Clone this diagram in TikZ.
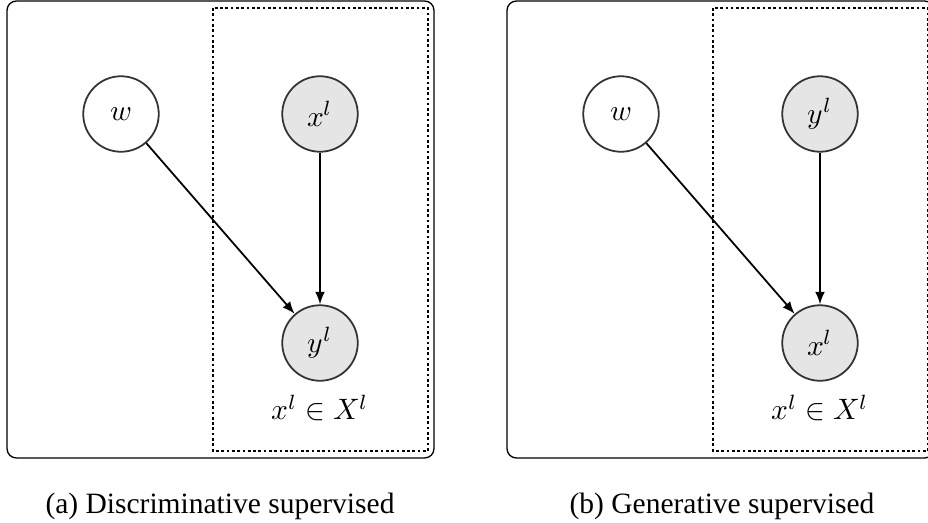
\documentclass[tikz,border=0pt]{standalone}
\usepackage{fontspec}
\usepackage{unicode-math}
\setmathfont{Latin Modern Math}
\newfontfamily\capfont{Liberation Serif}
\usetikzlibrary{arrows.meta, calc}

\begin{document}
\begin{tikzpicture}[x=0.339pt, y=-0.339pt,
	var/.style={circle, draw=black!80, line width=0.6pt, minimum size=25.6pt, inner sep=0pt},
	obs/.style={var, fill=black!10},
	plate/.style={draw, line width=0.4pt, dash pattern=on 0.9pt off 0.9pt},
	panel/.style={draw, line width=0.45pt, rounded corners=3.2pt},
	edge/.style={-{Latex[length=4.2pt, width=3.3pt]}, line width=0.6pt},
	caption/.style={anchor=base, font=\capfont}]
	\useasboundingbox (0,0) rectangle (928,522);
	% (a) discriminative
	\draw[panel] (7,1) rectangle (434,458);
	\draw[plate] (213,8) rectangle (428,451);
	\node[var] (wa) at (121,114) {$w$};
	\node[obs] (xa) at (320,114) {$x^l$};
	\node[obs] (ya) at (320,343) {$y^l$};
	\path (320,408) node (seta) {$x^l \in X^l$};
	\draw[edge] (wa) -- (ya);
	\draw[edge] (xa) -- (ya);
	\path (220,513) node[caption] (capa) {(a) Discriminative supervised};
	% (b) generative
	\draw[panel] (507,1) rectangle (934,458);
	\draw[plate] (713,8) rectangle (928,451);
	\node[var] (wb) at (621,114) {$w$};
	\node[obs] (yb) at (820,114) {$y^l$};
	\node[obs] (xb) at (820,343) {$x^l$};
	\path (820,408) node (setb) {$x^l \in X^l$};
	\draw[edge] (wb) -- (xb);
	\draw[edge] (yb) -- (xb);
	\path (722,513) node[caption] (capb) {(b) Generative supervised};
\end{tikzpicture}
\end{document}
